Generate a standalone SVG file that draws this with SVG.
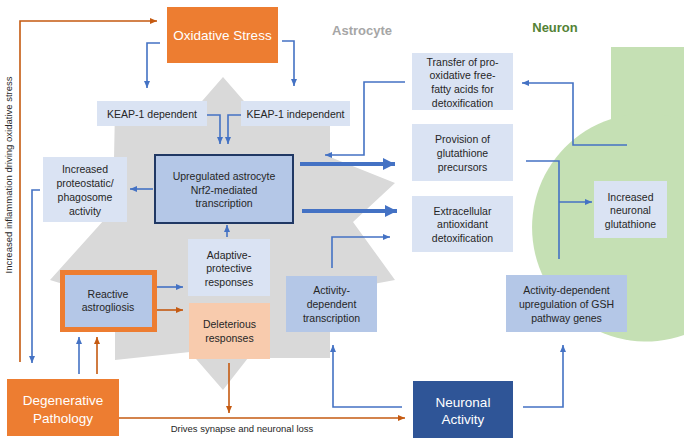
<svg xmlns="http://www.w3.org/2000/svg" width="686" height="443" viewBox="0 0 686 443">
<style>
text{font-family:"Liberation Sans","Open Sans",Arial,sans-serif;fill:#262626;font-size:10.5px;text-anchor:middle}
.w{fill:#ffffff;font-size:13.5px}
.lb{fill:#dae3f3}
.mb{fill:#b4c7e7}
.or{fill:#ed7d31}
.bl{fill:none;stroke:#4472c4;stroke-width:1.6}
.ol{fill:none;stroke:#c55a11;stroke-width:1.6}
.tk{fill:none;stroke:#4472c4;stroke-width:4}
</style>
<defs>
<marker id="ab" markerUnits="userSpaceOnUse" markerWidth="8" markerHeight="8" refX="7" refY="4" orient="auto"><path d="M0,1 L7,4 L0,7 Z" fill="#4472c4"/></marker>
<marker id="ao" markerUnits="userSpaceOnUse" markerWidth="8" markerHeight="8" refX="7" refY="4" orient="auto"><path d="M0,1 L7,4 L0,7 Z" fill="#c55a11"/></marker>
<marker id="at" markerUnits="userSpaceOnUse" markerWidth="14" markerHeight="14" refX="12" refY="7" orient="auto"><path d="M0,1 L12,7 L0,13 Z" fill="#4472c4"/></marker>
</defs>
<rect width="686" height="443" fill="#ffffff"/>
<g id="neuron-shape">
<rect x="611" y="47" width="73" height="200" fill="#c5e0b4"/>
<path d="M684,120 A114,114 0 1 0 684,335 Z" fill="#c5e0b4"/>
</g>
<g id="astrocyte-shape">
<polygon points="223,77 250,108 330,108 330,157 395,183 353,222 395,280 330,292 330,358 248,358 223,390 190,352 115,360 115,300 50,280 113,210 115,108 196,108" fill="#d9d9d9"/>
</g>
<text x="362" y="35" style="fill:#a6a6a6;font-weight:bold;font-size:13px">Astrocyte</text>
<text x="555" y="32" style="fill:#548235;font-weight:bold;font-size:13px">Neuron</text>
<g id="connectors">
<polyline class="bl" points="160,43 147,43 147,88" marker-end="url(#ab)"/>
<polyline class="bl" points="282,41 294,41 294,86" marker-end="url(#ab)"/>
<polyline class="bl" points="207,115 220,115 220,144" marker-end="url(#ab)"/>
<polyline class="bl" points="241,115 228,115 228,144" marker-end="url(#ab)"/>
<line class="bl" x1="153" y1="189" x2="130" y2="189" marker-end="url(#ab)"/>
<polyline class="bl" points="40,190 32,190 32,363" marker-end="url(#ab)"/>
<polyline class="ol" points="20,362 20,21 157,21" marker-end="url(#ao)"/>
<line class="bl" x1="227" y1="237" x2="227" y2="225" marker-end="url(#ab)"/>
<line class="bl" x1="157" y1="287" x2="183" y2="287" marker-end="url(#ab)"/>
<line class="ol" x1="157" y1="310" x2="183" y2="310" marker-end="url(#ao)"/>
<line class="ol" x1="229" y1="363" x2="229" y2="413" marker-end="url(#ao)"/>
<line class="bl" x1="79" y1="374" x2="79" y2="337" marker-end="url(#ab)"/>
<line class="ol" x1="97" y1="374" x2="97" y2="337" marker-end="url(#ao)"/>
<line class="ol" x1="119" y1="418" x2="405" y2="418" marker-end="url(#ao)"/>
<polyline class="bl" points="402,407 333,407 333,345" marker-end="url(#ab)"/>
<polyline class="bl" points="332,268 332,237 390,237" marker-end="url(#ab)"/>
<line class="tk" x1="300" y1="164" x2="395" y2="164" marker-end="url(#at)"/>
<line class="tk" x1="302" y1="211" x2="397" y2="211" marker-end="url(#at)"/>
<polyline class="bl" points="405,82 364,82 364,155 325,155" marker-end="url(#ab)"/>
<polyline class="bl" points="627,145 573,145 573,83 522,83" marker-end="url(#ab)"/>
<polyline class="bl" points="526,161 559,161 559,259"/>
<line class="bl" x1="559" y1="202" x2="592" y2="202" marker-end="url(#ab)"/>
<polyline class="bl" points="523,407 563,407 563,345" marker-end="url(#ab)"/>
</g>
<text transform="translate(12,175) rotate(-90)" style="font-size:9.5px">Increased inflammation driving oxidative stress</text>
<text x="242" y="432" style="font-size:9.5px">Drives synapse and neuronal loss</text>
<g id="oxidative-stress">
<rect class="or" x="167" y="7" width="111" height="56"/>
<text class="w" x="222.5" y="40">Oxidative Stress</text>
</g>
<g id="keap-dep">
<rect class="lb" x="97" y="101" width="110" height="25"/>
<text x="152" y="118">KEAP-1 dependent</text>
</g>
<g id="keap-indep">
<rect class="lb" x="241" y="101" width="109" height="25"/>
<text x="295.5" y="118">KEAP-1 independent</text>
</g>
<g id="nrf2">
<rect class="mb" x="155" y="155" width="138" height="68" stroke="#203864" stroke-width="2"/>
<text x="224" y="180">Upregulated astrocyte</text>
<text x="224" y="194">Nrf2-mediated</text>
<text x="224" y="207">transcription</text>
</g>
<g id="proteostatic">
<rect class="lb" x="43" y="157" width="84" height="65"/>
<text x="85" y="173">Increased</text>
<text x="85" y="187">proteostatic/</text>
<text x="85" y="201">phagosome</text>
<text x="85" y="215">activity</text>
</g>
<g id="adaptive">
<rect class="lb" x="188" y="239" width="82" height="57"/>
<text x="229" y="259">Adaptive-</text>
<text x="229" y="272">protective</text>
<text x="229" y="286">responses</text>
</g>
<g id="astrogliosis">
<rect class="mb" x="62.5" y="272.5" width="92" height="57" stroke="#ed7d31" stroke-width="5"/>
<text x="108" y="298">Reactive</text>
<text x="108" y="311">astrogliosis</text>
</g>
<g id="deleterious">
<rect x="189" y="303" width="81" height="56" fill="#f8cbad"/>
<text x="229.5" y="328">Deleterious</text>
<text x="229.5" y="342">responses</text>
</g>
<g id="degenerative">
<rect class="or" x="7" y="379" width="112" height="57"/>
<text class="w" x="63" y="405">Degenerative</text>
<text class="w" x="63" y="423">Pathology</text>
</g>
<g id="activity-transcription">
<rect class="mb" x="286" y="276" width="91" height="56"/>
<text x="331.5" y="294">Activity-</text>
<text x="331.5" y="308">dependent</text>
<text x="331.5" y="322">transcription</text>
</g>
<g id="neuronal-activity">
<rect x="413" y="381" width="100" height="57" fill="#2f5597"/>
<text class="w" x="463" y="407">Neuronal</text>
<text class="w" x="463" y="424">Activity</text>
</g>
<g id="transfer">
<rect class="lb" x="412" y="53" width="101" height="57"/>
<text x="462.5" y="66">Transfer of pro-</text>
<text x="462.5" y="79">oxidative free-</text>
<text x="462.5" y="93">fatty acids for</text>
<text x="462.5" y="107">detoxification</text>
</g>
<g id="provision">
<rect class="lb" x="412" y="124" width="101" height="57"/>
<text x="462.5" y="143">Provision of</text>
<text x="462.5" y="157">glutathione</text>
<text x="462.5" y="171">precursors</text>
</g>
<g id="extracellular">
<rect class="lb" x="412" y="196" width="101" height="56"/>
<text x="462.5" y="215">Extracellular</text>
<text x="462.5" y="228">antioxidant</text>
<text x="462.5" y="242">detoxification</text>
</g>
<g id="neuronal-glutathione">
<rect class="lb" x="594" y="181" width="73" height="57"/>
<text x="630.5" y="201">Increased</text>
<text x="630.5" y="214">neuronal</text>
<text x="630.5" y="228">glutathione</text>
</g>
<g id="gsh-upregulation">
<rect class="mb" x="506" y="275" width="121" height="57"/>
<text x="566.5" y="294">Activity-dependent</text>
<text x="566.5" y="308">upregulation of GSH</text>
<text x="566.5" y="322">pathway genes</text>
</g>
</svg>
